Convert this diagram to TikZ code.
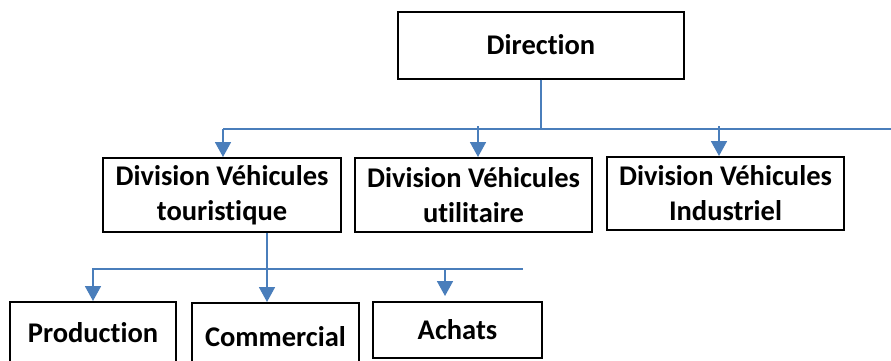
\documentclass[tikz,border=0pt]{standalone}
\usepackage{fontspec}
\setmainfont{Carlito}[RawFeature={-liga;-clig;-calt;-dlig}]
\usetikzlibrary{arrows.meta}
\definecolor{linkblue}{HTML}{4A7EBB}
\begin{document}
\begin{tikzpicture}[x=1pt,y=-1pt,
  box/.style={draw=black,line width=2pt,inner sep=0pt,align=center,
    font=\fontsize{28.5}{35}\selectfont\bfseries},
  link/.style={draw=linkblue,line width=1.8pt},
  arr/.style={link,-{Triangle[width=16pt,length=15pt]}}]
\useasboundingbox (0,0) rectangle (891,360);
\clip (0,0) rectangle (891,360);
% boxes
\node[box,minimum width=286pt,minimum height=67pt] (dir) at (541,45) {Direction};
\node[box,minimum width=238pt,minimum height=74pt] (tour) at (222,195) {Division Véhicules\\touristique};
\node[box,minimum width=237pt,minimum height=74pt] (util) at (473.5,195) {Division Véhicules\\utilitaire};
\node[box,minimum width=237pt,minimum height=73pt] (indu) at (725.5,193.5) {Division Véhicules\\Industriel};
\node[box,minimum width=166pt,minimum height=62pt] (prod) at (93,333) {Production};
\node[box,minimum width=167pt,minimum height=68pt] (comm) at (275.5,337) {Commercial};
\node[box,minimum width=169pt,minimum height=56pt] (acha) at (457.5,330) {Achats};
% first level connectors
\coordinate (h1L) at (223,129);
\coordinate (h1R) at (891,129);
\coordinate (a2) at (478,126);
\coordinate (a3) at (719,126);
\draw[link] (dir.south) -- (dir.south |- h1L);
\draw[link] (h1L) -- (h1R);
\draw[arr] (h1L) -- (h1L |- tour.north);
\draw[arr] (a2) -- (a2 |- util.north);
\draw[arr] (a3) -- (a3 |- indu.north);
% second level connectors
\coordinate (h2L) at (92,269);
\coordinate (h2R) at (523,269);
\coordinate (c1) at (93,269);
\coordinate (c2) at (267,269);
\coordinate (c3) at (445,269);
\draw[link] (h2L) -- (h2R);
\draw[arr] (c2 |- tour.south) -- (c2 |- comm.north);
\draw[arr] (c1) -- (c1 |- prod.north);
\draw[arr] (c3) -- ([yshift=5pt]c3 |- acha.north);
\end{tikzpicture}
\end{document}
